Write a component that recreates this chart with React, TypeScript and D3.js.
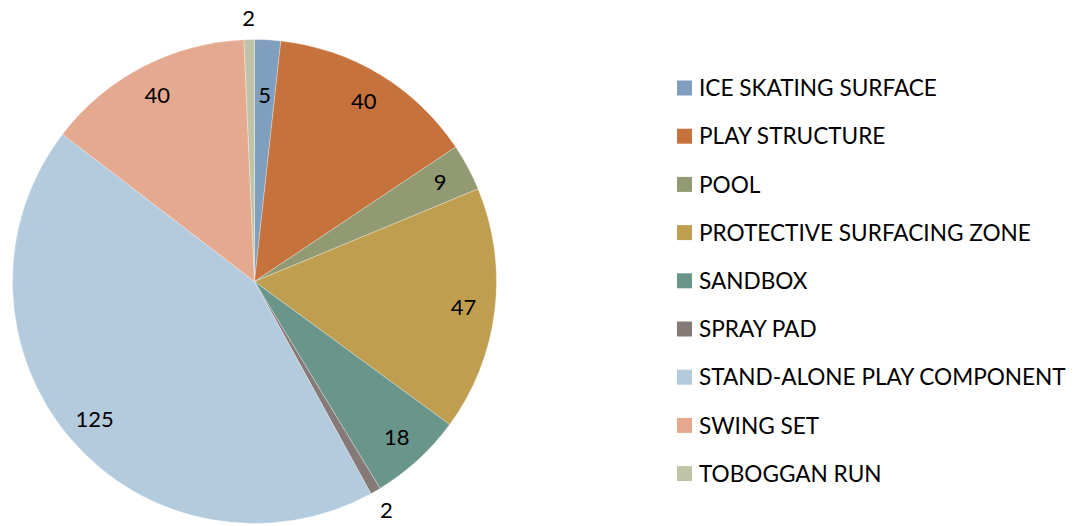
import React, { useEffect, useRef } from 'react';
import * as d3 from 'd3';

const categories = [
  'ICE SKATING SURFACE',
  'PLAY STRUCTURE',
  'POOL',
  'PROTECTIVE SURFACING ZONE',
  'SANDBOX',
  'SPRAY PAD',
  'STAND-ALONE PLAY COMPONENT',
  'SWING SET',
  'TOBOGGAN RUN',
];
const counts = [5, 40, 9, 47, 18, 2, 125, 40, 2];
const colors = ['#809ebd', '#c5723c', '#919a72', '#bf9e50', '#6a958a', '#857a78', '#b4cbde', '#e4a98f', '#c0c4a6'];

const W = 1077;
const H = 526;
const FONT = 'Lato, "Noto Sans", sans-serif';

const App: React.FC = () => {
  const svgRef = useRef<SVGSVGElement>(null);

  useEffect(() => {
    if (!svgRef.current) return;
    const svg = d3.select(svgRef.current);
    svg.selectAll('*').remove();

    const cx = 254.5;
    const cy = 281.5;
    const r = 242;

    const data = categories.map((c, i) => ({ name: c, value: counts[i], color: colors[i] }));
    const pie = d3.pie<typeof data[0]>().value((d) => d.value).sort(null);
    const arcs = pie(data);
    const arc = d3.arc<d3.PieArcDatum<typeof data[0]>>().innerRadius(0).outerRadius(r);

    const g = svg.append('g').attr('transform', `translate(${cx},${cy})`);
    g.selectAll('path.slice')
      .data(arcs)
      .enter()
      .append('path')
      .attr('class', 'slice')
      .attr('d', arc)
      .attr('fill', (d) => d.data.color)
      .attr('stroke', '#ffffff')
      .attr('stroke-width', 0.3);

    // labels: tiny slices go outside, others inside
    const labelRadius = (v: number) => (v <= 2 ? r * 1.09 : v <= 5 ? r * 0.77 : r * 0.87);
    g.selectAll('text.lbl')
      .data(arcs)
      .enter()
      .append('text')
      .attr('class', 'lbl')
      .attr('transform', (d) => {
        const a = (d.startAngle + d.endAngle) / 2;
        const lr = labelRadius(d.data.value);
        return `translate(${Math.sin(a) * lr},${-Math.cos(a) * lr})`;
      })
      .attr('text-anchor', 'middle')
      .attr('dy', '0.36em')
      .attr('font-family', FONT)
      .attr('font-size', 22)
      .attr('fill', '#000')
      .text((d) => d.data.value);

    const legend = svg.append('g').attr('transform', 'translate(677,88)');
    const rows = legend
      .selectAll('g')
      .data(data)
      .enter()
      .append('g')
      .attr('transform', (_d, i) => `translate(0,${i * 48.2})`);
    rows.append('rect').attr('x', 0).attr('y', -7.5).attr('width', 15).attr('height', 15).attr('fill', (d) => d.color);
    rows
      .append('text')
      .attr('x', 22)
      .attr('dy', '0.36em')
      .attr('font-family', FONT)
      .attr('font-size', 22.6)
      .attr('fill', '#000')
      .text((d) => d.name);
  }, []);

  return <svg ref={svgRef} width={W} height={H} style={{ position: 'absolute', left: 0, top: 0 }} />;
};

export default App;
